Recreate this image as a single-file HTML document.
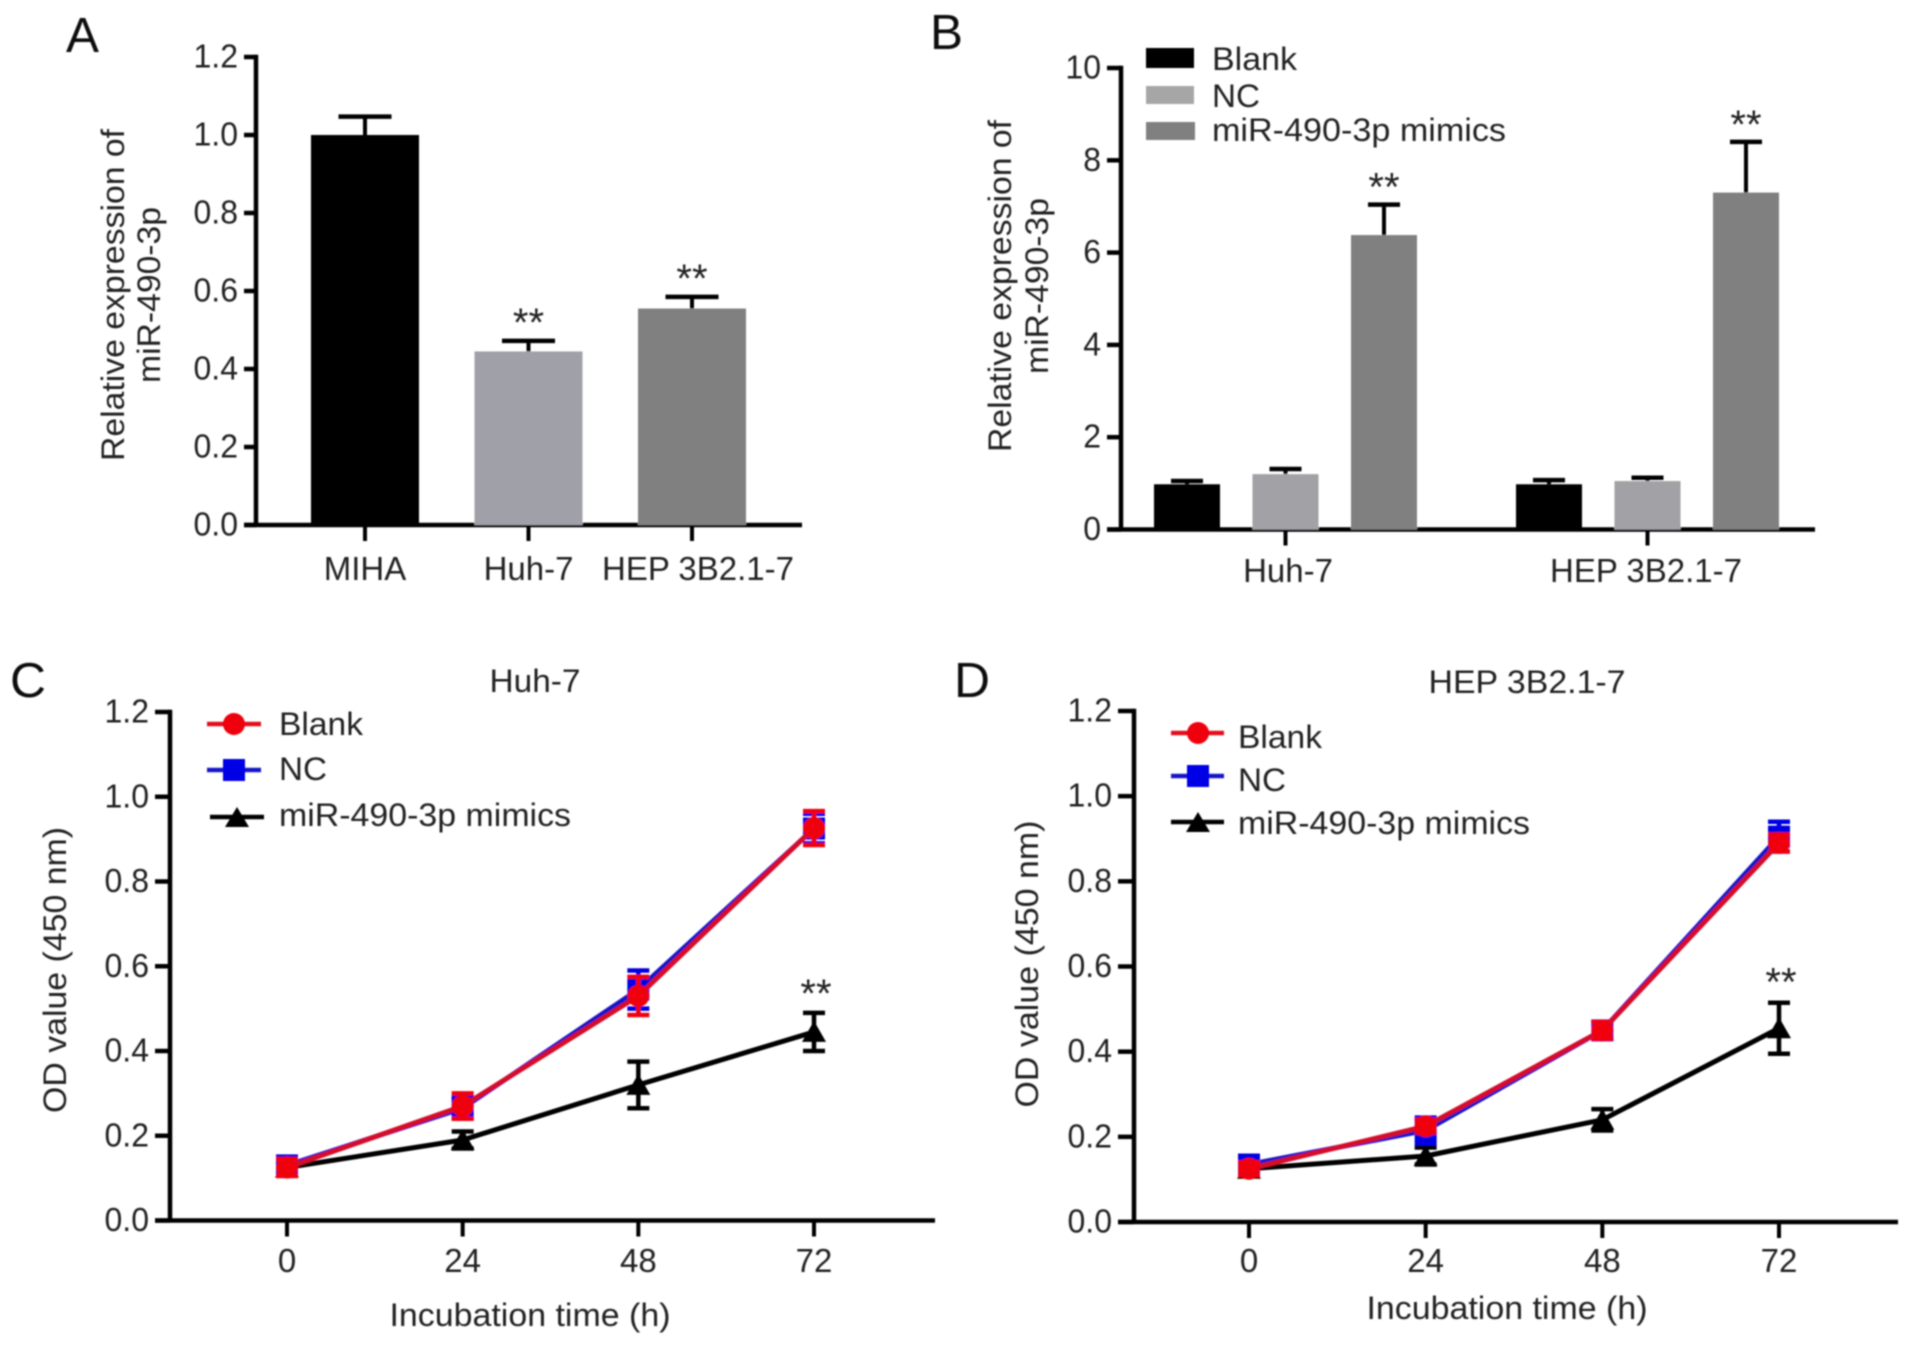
<!DOCTYPE html>
<html lang="en">
<head>
<meta charset="utf-8">
<title>miR-490-3p expression and OD value charts</title>
<style>
html,body{margin:0;padding:0;background:#fff;width:1913px;height:1346px;overflow:hidden}
svg{display:block}
text{font-family:"Liberation Sans",Arial,sans-serif;fill:#222}
.tick{font-size:33px}
.lab{font-size:32px}
.title{font-size:32px}
.letter{font-size:49px;fill:#111}
.stars{font-size:40px;text-anchor:middle}
</style>
</head>
<body>
<svg id="figure" xmlns="http://www.w3.org/2000/svg" width="1913" height="1346" viewBox="0 0 1913 1346">
  <defs><filter id="soft" x="-2%" y="-2%" width="104%" height="104%"><feGaussianBlur stdDeviation="0.8"/></filter></defs>
  <g id="root" filter="url(#soft)">
    <text class="letter" x="66" y="52" textLength="33" lengthAdjust="spacingAndGlyphs">A</text>
    <text class="letter" x="930" y="49" textLength="33" lengthAdjust="spacingAndGlyphs">B</text>
    <text class="letter" x="10" y="697" textLength="36" lengthAdjust="spacingAndGlyphs">C</text>
    <text class="letter" x="954" y="697" textLength="36" lengthAdjust="spacingAndGlyphs">D</text>

    <g id="panelA">
      <text class="title" transform="translate(124,295) rotate(-90)" text-anchor="middle" textLength="332" lengthAdjust="spacingAndGlyphs">Relative expression of</text>
      <text class="title" transform="translate(160,295) rotate(-90)" text-anchor="middle" textLength="176" lengthAdjust="spacingAndGlyphs">miR-490-3p</text>
    </g>

    <g id="panelB">
      <text class="title" transform="translate(1011,286) rotate(-90)" text-anchor="middle" textLength="332" lengthAdjust="spacingAndGlyphs">Relative expression of</text>
      <text class="title" transform="translate(1048,286) rotate(-90)" text-anchor="middle" textLength="176" lengthAdjust="spacingAndGlyphs">miR-490-3p</text>
      <g>
        <rect x="1146" y="48" width="48" height="20" fill="#000"/>
        <rect x="1146" y="86" width="48" height="18" fill="#a6a6a6"/>
        <rect x="1146" y="122" width="49" height="18" fill="#808080"/>
        <text class="lab" x="1212" y="70" textLength="85" lengthAdjust="spacingAndGlyphs">Blank</text>
        <text class="lab" x="1212" y="107" textLength="48" lengthAdjust="spacingAndGlyphs">NC</text>
        <text class="lab" x="1212" y="141" textLength="294" lengthAdjust="spacingAndGlyphs">miR-490-3p mimics</text>
      </g>
    </g>

    <g id="panelC">
      <text class="title" x="535" y="692" text-anchor="middle" textLength="91" lengthAdjust="spacingAndGlyphs">Huh-7</text>
      <text class="title" transform="translate(66,970) rotate(-90)" text-anchor="middle" textLength="286" lengthAdjust="spacingAndGlyphs">OD value (450 nm)</text>
      <text class="title" x="530" y="1326" text-anchor="middle" textLength="281" lengthAdjust="spacingAndGlyphs">Incubation time (h)</text>
      <g>
        <line x1="207" x2="261" y1="724" y2="724" stroke="#e3101f" stroke-width="4.5"/>
        <circle cx="234" cy="724" r="11" fill="#f0000f"/>
        <line x1="207" x2="261" y1="770" y2="770" stroke="#1414c8" stroke-width="4.5"/>
        <rect x="223" y="759" width="22" height="22" fill="#0000e6"/>
        <line x1="210" x2="264" y1="817" y2="817" stroke="#000" stroke-width="4.5"/>
        <polygon points="225,827 249,827 237,807" fill="#000"/>
        <text class="lab" x="279" y="735" textLength="84" lengthAdjust="spacingAndGlyphs">Blank</text>
        <text class="lab" x="279" y="780" textLength="48" lengthAdjust="spacingAndGlyphs">NC</text>
        <text class="lab" x="279" y="826" textLength="292" lengthAdjust="spacingAndGlyphs">miR-490-3p mimics</text>
      </g>
    </g>

    <g id="panelD">
      <text class="title" x="1527" y="693" text-anchor="middle" textLength="197" lengthAdjust="spacingAndGlyphs">HEP 3B2.1-7</text>
      <text class="title" transform="translate(1038,964) rotate(-90)" text-anchor="middle" textLength="287" lengthAdjust="spacingAndGlyphs">OD value (450 nm)</text>
      <text class="title" x="1507" y="1319" text-anchor="middle" textLength="281" lengthAdjust="spacingAndGlyphs">Incubation time (h)</text>
      <g>
        <line x1="1171" x2="1224" y1="733" y2="733" stroke="#e3101f" stroke-width="4.5"/>
        <circle cx="1198" cy="733" r="11" fill="#f0000f"/>
        <line x1="1171" x2="1224" y1="776" y2="776" stroke="#1414c8" stroke-width="4.5"/>
        <rect x="1187" y="765" width="22" height="22" fill="#0000e6"/>
        <line x1="1171" x2="1224" y1="822" y2="822" stroke="#000" stroke-width="4.5"/>
        <polygon points="1186,832 1210,832 1198,812" fill="#000"/>
        <text class="lab" x="1238" y="748" textLength="84" lengthAdjust="spacingAndGlyphs">Blank</text>
        <text class="lab" x="1238" y="791" textLength="48" lengthAdjust="spacingAndGlyphs">NC</text>
        <text class="lab" x="1238" y="834" textLength="292" lengthAdjust="spacingAndGlyphs">miR-490-3p mimics</text>
      </g>
    </g>
  </g>
</svg>
<script>
// Panel A data
const aCategories = ['MIHA', 'Huh-7', 'HEP 3B2.1-7'];
const aMeans = [1.0, 0.445, 0.555];
const aErrors = [0.047, 0.027, 0.03];
const aColors = ['#000000', '#a0a0a8', '#808080'];
const aStars = ['', '**', '**'];
const aTicks = ['0.0', '0.2', '0.4', '0.6', '0.8', '1.0', '1.2'];

// Panel B data
const bGroups = ['Huh-7', 'HEP 3B2.1-7'];
const bBlank = [0.98, 0.98];
const bBlankErr = [0.07, 0.09];
const bNC = [1.2, 1.05];
const bNCErr = [0.11, 0.07];
const bMimics = [6.38, 7.3];
const bMimicsErr = [0.66, 1.1];
const bStars = ['**', '**'];
const bTicks = ['0', '2', '4', '6', '8', '10'];

// Panels C and D data
const times = ['0', '24', '48', '72'];
const odTicks = ['0.0', '0.2', '0.4', '0.6', '0.8', '1.0', '1.2'];
const cBlank = [0.125, 0.27, 0.53, 0.926];
const cBlankErr = [0.02, 0.03, 0.045, 0.04];
const cNC = [0.13, 0.265, 0.545, 0.925];
const cNCErr = [0.02, 0.025, 0.045, 0.035];
const cMimics = [0.125, 0.19, 0.32, 0.445];
const cMimicsErr = [0.01, 0.02, 0.055, 0.045];
const cStars = ['', '', '', '**'];
const dBlank = [0.125, 0.225, 0.45, 0.89];
const dBlankErr = [0.015, 0.015, 0.02, 0.02];
const dNC = [0.135, 0.215, 0.45, 0.905];
const dNCErr = [0.015, 0.03, 0.02, 0.035];
const dMimics = [0.125, 0.155, 0.24, 0.455];
const dMimicsErr = [0.01, 0.02, 0.025, 0.06];
const dStars = ['', '', '', '**'];

const SVGNS = 'http://www.w3.org/2000/svg';
function mk(parent, tag, attrs, text) {
  const el = document.createElementNS(SVGNS, tag);
  for (const k in attrs) el.setAttribute(k, attrs[k]);
  if (text !== undefined) el.textContent = text;
  parent.appendChild(el);
  return el;
}
function linearScale(d0, d1, r0, r1) {
  return function (v) { return r0 + (v - d0) * (r1 - r0) / (d1 - d0); };
}
function drawYAxis(parent, yScale, tickLabels, axisX, xLeft, xRight, bottomY) {
  const sw = 4.5;
  const yAxis = mk(parent, 'line', {x1: axisX, x2: axisX, y1: yScale(parseFloat(tickLabels[tickLabels.length - 1])) - sw / 2, y2: bottomY, stroke: '#000', 'stroke-width': sw});
  
  
  const xAxis = mk(parent, 'line', {x1: xLeft, x2: xRight, y1: bottomY, y2: bottomY, stroke: '#000', 'stroke-width': sw});
  
  
  tickLabels.forEach(function (t) {
    const y = yScale(parseFloat(t));
    const tick = mk(parent, 'line', {x1: xLeft, x2: axisX, y1: y, y2: y, stroke: '#000', 'stroke-width': sw});
    
    
    const label = mk(parent, 'text', {class: 'tick', transform: 'translate(' + (xLeft - 6) + ',' + (y + 10.5) + ') scale(0.97,1)', 'text-anchor': 'end'}, t);
    
    
  });
}
function drawXTick(parent, x, bottomY, text, labelY, labelX) {
  const tick = mk(parent, 'line', {x1: x, x2: x, y1: bottomY, y2: bottomY + 16, stroke: '#000', 'stroke-width': 4});
  
  
  const lx = labelX === undefined ? x : labelX;
  const label = mk(parent, 'text', {class: 'tick', transform: 'translate(' + lx + ',' + labelY + ') scale(1,1)', 'text-anchor': 'middle'}, text);
  
  
}
function drawBar(parent, cx, width, mean, err, color, yScale, capW, name) {
  const yTop = yScale(mean), yErr = yScale(mean + err), y0 = yScale(0);
  const stem = mk(parent, 'line', {x1: cx, x2: cx, y1: yTop, y2: yErr, stroke: '#000', 'stroke-width': 4});
  
  
  const cap = mk(parent, 'line', {x1: cx - capW / 2, x2: cx + capW / 2, y1: yErr, y2: yErr, stroke: '#000', 'stroke-width': 4.5});
  
  
  const bar = mk(parent, 'rect', {x: cx - width / 2, y: yTop, width: width, height: y0 - yTop, fill: color});
  
  
}
function drawStars(parent, x, y, s) {
  if (!s) return;
  const t = mk(parent, 'text', {class: 'stars', x: x, y: y + 22}, s);
  
  
}
function drawSeries(parent, xPos, means, errs, yScale, color, lineColor, shape, name) {
  const g = mk(parent, 'g', {});
  
  
  means.forEach(function (m, i) {
    const x = xPos[i], hi = yScale(m + errs[i]), lo = yScale(m - errs[i]);
    const e = mk(g, 'path', {d: 'M' + (x - 11) + ' ' + hi + 'H' + (x + 11) + 'M' + x + ' ' + hi + 'V' + lo + 'M' + (x - 11) + ' ' + lo + 'H' + (x + 11), stroke: color, 'stroke-width': 4.5, fill: 'none'});
    
    
  });
  const pts = means.map(function (m, i) { return xPos[i] + ',' + yScale(m); }).join(' ');
  const line = mk(g, 'polyline', {points: pts, fill: 'none', stroke: lineColor, 'stroke-width': 5, 'stroke-linejoin': 'round'});
  
  
  means.forEach(function (m, i) {
    const x = xPos[i], y = yScale(m);
    let mark;
    if (shape === 'circle') mark = mk(g, 'circle', {cx: x, cy: y, r: 11, fill: color});
    else if (shape === 'square') mark = mk(g, 'rect', {x: x - 11, y: y - 11, width: 22, height: 22, fill: color});
    else mark = mk(g, 'polygon', {points: (x - 12) + ',' + (y + 10) + ' ' + (x + 12) + ',' + (y + 10) + ' ' + x + ',' + (y - 11), fill: color});
    
    
  });
}

// Panel A
(function () {
  const p = document.getElementById('panelA');
  const y = linearScale(0, 1.2, 525, 57);
  drawYAxis(p, y, aTicks, 256, 244, 802, y(0));
  const x = function (i) { return 365 + i * 163.5; };
  aMeans.forEach(function (m, i) {
    drawBar(p, x(i), 108, m, aErrors[i], aColors[i], y, 53, 'bar-' + aCategories[i].toLowerCase().replace(/[^a-z0-9]+/g, '-'));
    drawXTick(p, x(i), y(0), aCategories[i], 580, i === 2 ? 698 : undefined);
    drawStars(p, x(i), y(m + aErrors[i]) - 27, aStars[i]);
  });
})();

// Panel B
(function () {
  const p = document.getElementById('panelB');
  const y = linearScale(0, 10, 529.5, 68);
  drawYAxis(p, y, bTicks, 1121, 1107, 1815, y(0));
  const gx = function (i) { return 1285.5 + i * 362; };
  const gap = 98.5;
  bGroups.forEach(function (name, i) {
    const slug = i === 0 ? 'huh7' : 'hep3b';
    drawBar(p, gx(i) - gap, 66, bBlank[i], bBlankErr[i], '#000000', y, 32, 'bar-blank-' + slug);
    drawBar(p, gx(i), 66, bNC[i], bNCErr[i], '#a2a2a6', y, 32, 'bar-nc-' + slug);
    drawBar(p, gx(i) + gap, 66, bMimics[i], bMimicsErr[i], '#808080', y, 32, 'bar-mimics-' + slug);
    drawXTick(p, gx(i), y(0), name, 582, i === 0 ? 1288 : 1646);
    drawStars(p, gx(i) + gap, y(bMimics[i] + bMimicsErr[i]) - 26, bStars[i]);
  });
})();

// Panel C
(function () {
  const p = document.getElementById('panelC');
  const y = linearScale(0, 1.2, 1220.5, 712);
  const x = linearScale(0, 72, 287, 814);
  drawYAxis(p, y, odTicks, 170, 155, 935, y(0));
  const xPos = times.map(function (t) { return x(parseFloat(t)); });
  times.forEach(function (t, i) { drawXTick(p, xPos[i], y(0), t, 1272); });
  drawSeries(p, xPos, cMimics, cMimicsErr, y, '#000000', '#000000', 'triangle', 'mimics');
  drawSeries(p, xPos, cNC, cNCErr, y, '#0000e0', '#1414c8', 'square', 'nc');
  drawSeries(p, xPos, cBlank, cBlankErr, y, '#f0000f', '#d4102a', 'circle', 'blank');
  cStars.forEach(function (s, i) { drawStars(p, xPos[i] + 2, y(cMimics[i] + cMimicsErr[i]) - 28, s); });
})();

// Panel D
(function () {
  const p = document.getElementById('panelD');
  const y = linearScale(0, 1.2, 1222, 711);
  const x = linearScale(0, 72, 1249, 1779);
  drawYAxis(p, y, odTicks, 1134, 1118, 1898, y(0));
  const xPos = times.map(function (t) { return x(parseFloat(t)); });
  times.forEach(function (t, i) { drawXTick(p, xPos[i], y(0), t, 1272); });
  drawSeries(p, xPos, dMimics, dMimicsErr, y, '#000000', '#000000', 'triangle', 'mimics');
  drawSeries(p, xPos, dNC, dNCErr, y, '#0000e0', '#1414c8', 'square', 'nc');
  drawSeries(p, xPos, dBlank, dBlankErr, y, '#f0000f', '#d4102a', 'circle', 'blank');
  dStars.forEach(function (s, i) { drawStars(p, xPos[i] + 2, y(dMimics[i] + dMimicsErr[i]) - 29, s); });
})();
</script>
</body>
</html>
